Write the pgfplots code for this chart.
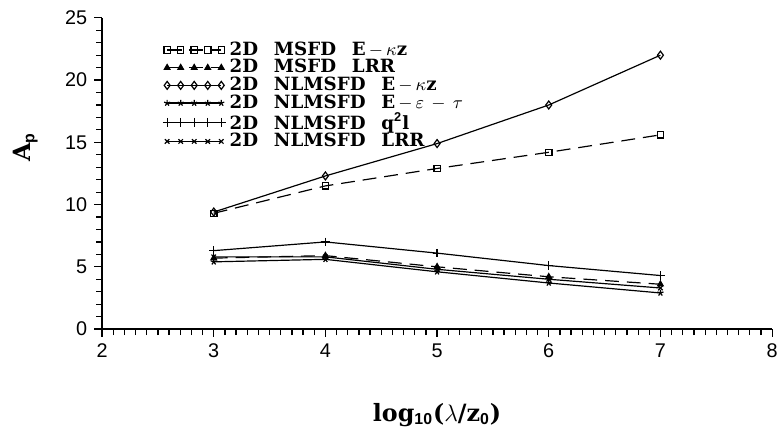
\documentclass[border=0pt]{standalone}
\usepackage{amsmath,amssymb}
\usepackage{fontspec}
\setmainfont{Liberation Sans}
\newfontfamily\lgfont{DejaVu Serif}
\usepackage{pgfplots}
\pgfplotsset{compat=1.18}

\pgfplotsset{
  fivemarks/.style={
    legend image code/.code={
      \draw[##1, mark repeat=1] plot coordinates {(0cm,0cm) (0.24cm,0cm) (0.48cm,0cm) (0.72cm,0cm) (0.96cm,0cm)};
    }
  }
}
\newcommand{\gap}{\hspace{8pt}}

\begin{document}
\begin{tikzpicture}
\begin{axis}[
  name=ax,
  scale only axis,
  width=338pt, height=157pt,
  xmin=2, xmax=8, ymin=0, ymax=25,
  xtick={2,3,...,8}, ytick={0,5,...,25},
  minor x tick num=9, minor y tick num=4,
  axis x line*=bottom, axis y line*=left,
  tick align=outside,
  major tick length=4pt, minor tick length=3pt,
  tick style={black, line width=0.6pt},
  axis line style={line width=0.7pt},
  /pgf/number format/assume math mode=true,
  tick label style={font=\fontsize{10}{11}\selectfont},
  xlabel={\lgfont\bfseries log$_{\mathbf{10}}$($\lambda$/z$_{\mathbf 0}$)},
  ylabel={\lgfont\bfseries A$_{\mathbf p}$},
  label style={font=\fontsize{12}{13}\selectfont},
  xlabel style={yshift=-16pt},
  ylabel style={at={(ticklabel cs:0.585)}},
  ylabel shift=7pt,
  legend style={draw=none, fill=none, at={(0.09,0.95)}, anchor=north west,
    font=\lgfont\bfseries\fontsize{9.2}{9.2}\selectfont, row sep=-3.4pt,
    cells={anchor=west}, inner xsep=0pt},
  legend cell align=left,
  fivemarks,
  every axis plot/.append style={line width=0.6pt, black, mark size=1.6pt},
]
\addplot[dash pattern=on 7pt off 4pt, mark=square, mark options={solid}] coordinates {
  (3,9.3) (4,11.5) (5,12.9) (6,14.2) (7,15.6)};
\addplot[dash pattern=on 7pt off 4pt, mark=triangle*, mark options={solid}] coordinates {
  (3,5.7) (4,5.9) (5,5.0) (6,4.2) (7,3.6)};
\addplot[mark=diamond, mark size=2pt] coordinates {
  (3,9.4) (4,12.3) (5,14.9) (6,18.0) (7,22.0)};
\addplot[mark=star] coordinates {
  (3,5.4) (4,5.6) (5,4.6) (6,3.7) (7,2.9)};
\addplot[mark=+, mark size=2.2pt] coordinates {
  (3,6.3) (4,7.0) (5,6.1) (6,5.1) (7,4.3)};
\addplot[mark=x] coordinates {
  (3,5.8) (4,5.8) (5,4.8) (6,4.0) (7,3.3)};
\legend{
  2D\gap MSFD\gap E$\,-\,\kappa$z,
  2D\gap MSFD\gap LRR,
  2D\gap NLMSFD\gap E$\,-\,\kappa$z,
  2D\gap NLMSFD\gap E$\,-\,\varepsilon\,-\,\tau$,
  2D\gap NLMSFD\gap q$^{\mathbf 2}$l,
  2D\gap NLMSFD\gap LRR}
\end{axis}
\pgfresetboundingbox
\path ([xshift=-51.5pt,yshift=-51pt]ax.south west) rectangle ([xshift=5pt,yshift=9pt]ax.north east);
\end{tikzpicture}
\end{document}
